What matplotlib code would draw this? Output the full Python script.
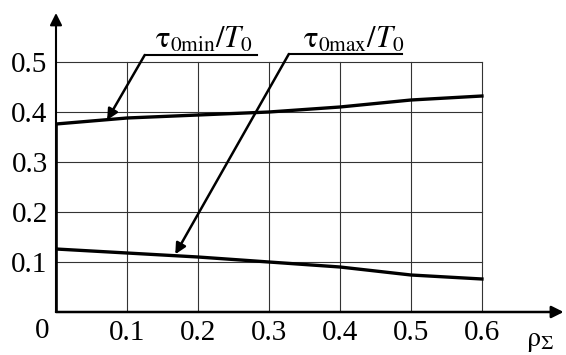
import numpy as np
import matplotlib
matplotlib.use("Agg")
import matplotlib.pyplot as plt

plt.rcParams['font.family'] = ['Liberation Serif', 'DejaVu Serif']
plt.rcParams['mathtext.fontset'] = 'stix'

# data
rho = [0.0, 0.1, 0.2, 0.3, 0.4, 0.5, 0.6]
tau_min = [0.376, 0.388, 0.394, 0.400, 0.410, 0.424, 0.432]
tau_max = [0.126, 0.118, 0.110, 0.100, 0.090, 0.074, 0.066]
xticks = [0.1, 0.2, 0.3, 0.4, 0.5, 0.6]
yticks = [0.1, 0.2, 0.3, 0.4, 0.5]

fig = plt.figure(figsize=(5.66, 3.55), dpi=100)
ax = fig.add_axes([56 / 566, 43 / 355, 507.6 / 566, 300 / 355])
ax.set_xlim(0, 0.715)
ax.set_ylim(0, 0.6)
for s in ax.spines.values():
    s.set_visible(False)

# grid
for x in xticks:
    ax.plot([x, x], [0, 0.5], color='0.2', lw=0.8, zorder=1)
for y in yticks:
    ax.plot([0, 0.6], [y, y], color='0.2', lw=0.8, zorder=1)

# axes with arrows
ax.annotate('', xy=(0.715, 0), xytext=(0, 0),
            arrowprops=dict(arrowstyle='-|>', lw=1.8, color='k',
                            mutation_scale=18, shrinkA=0, shrinkB=0))
ax.annotate('', xy=(0, 0.598), xytext=(0, 0),
            arrowprops=dict(arrowstyle='-|>', lw=1.5, color='k',
                            mutation_scale=18, shrinkA=0, shrinkB=0))
ax.plot([0, 0], [0, tau_min[0]], color='k', lw=2.6, solid_capstyle='butt')

# curves
ax.plot(rho, tau_min, color='k', lw=2.4, zorder=3)
ax.plot(rho, tau_max, color='k', lw=2.4, zorder=3)

# ticks
ax.set_xticks(xticks)
ax.set_xticklabels(['%.1f' % v for v in xticks])
ax.set_yticks(yticks)
ax.set_yticklabels(['%.1f' % v for v in yticks])
ax.tick_params(length=0, labelsize=21, pad=6)
ax.text(-0.02, -0.012, '0', fontsize=21, ha='center', va='top')
ax.text(0.682, -0.058, r'$\mathrm{\rho}_{\Sigma}$', fontsize=20,
        ha='center', va='center')

# labels with leader lines
ax.plot([0.125, 0.283], [0.514, 0.514], color='k', lw=1.5)
ax.annotate('', xy=(0.072, 0.384), xytext=(0.125, 0.514),
            arrowprops=dict(arrowstyle='-|>', lw=1.8, color='k',
                            mutation_scale=16, shrinkA=0, shrinkB=0))
ax.text(0.208, 0.528, r'$\mathrm{\tau}_{\mathrm{0min}}/T_0$', fontsize=22,
        ha='center', va='baseline')

ax.plot([0.328, 0.487], [0.516, 0.516], color='k', lw=1.5)
ax.annotate('', xy=(0.168, 0.1155), xytext=(0.328, 0.516),
            arrowprops=dict(arrowstyle='-|>', lw=1.8, color='k',
                            mutation_scale=16, shrinkA=0, shrinkB=0))
ax.text(0.419, 0.528, r'$\mathrm{\tau}_{\mathrm{0max}}/T_0$', fontsize=22,
        ha='center', va='baseline')

fig.savefig('out.png', dpi=100)
